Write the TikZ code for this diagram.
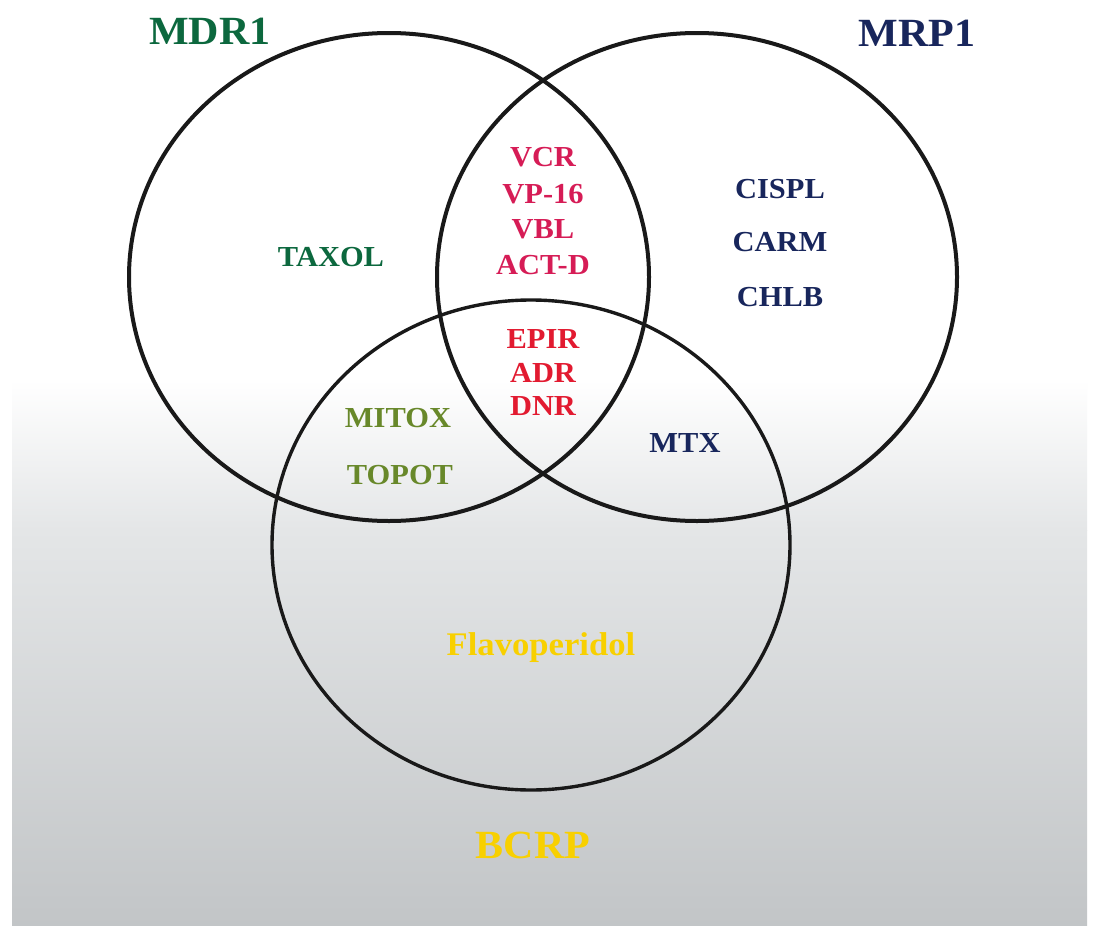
\documentclass[tikz,border=0pt]{standalone}
\usepackage{fontspec}
\setmainfont{Liberation Serif}[FakeStretch=1.05]
\definecolor{mdrgreen}{RGB}{12,104,62}
\definecolor{mrpblue}{RGB}{24,38,92}
\definecolor{vcrpink}{RGB}{214,28,86}
\definecolor{epirred}{RGB}{226,26,48}
\definecolor{mitoxgreen}{RGB}{104,136,42}
\definecolor{bcrpgold}{RGB}{248,208,0}
\definecolor{bgmid}{RGB}{228,230,231}
\definecolor{bgbot}{RGB}{194,197,199}
\begin{document}
\begin{tikzpicture}[x=1pt,y=-1pt,
  lbl/.style={font=\bfseries\fontsize{29}{32}\selectfont, inner sep=0pt},
  title/.style={font=\bfseries\fontsize{40}{44}\selectfont, inner sep=0pt},
  ring/.style={draw=black!90, line width=4pt},
  ringb/.style={draw=black!90, line width=3.4pt}]
\useasboundingbox (0,0) rectangle (1098,926);
\fill[white] (0,0) rectangle (1098,926);
\shade[top color=white, bottom color=bgmid] (12,380) rectangle (1087,530);
\shade[top color=bgmid, bottom color=bgbot] (12,530) rectangle (1087,926);
% circles
\draw[ring] (389,277) ellipse [x radius=260pt, y radius=244pt];
\draw[ring] (697,277) ellipse [x radius=260pt, y radius=244pt];
\draw[ringb] (531,545) ellipse [x radius=259pt, y radius=245pt];
% titles
\node[title, text=mdrgreen] (lmdr) at (210,31) {MDR1};
\node[title, text=mrpblue] (lmrp) at (917,33) {MRP1};
\node[title, text=bcrpgold] (lbcrp) at (533,845) {BCRP};
% MDR1 only
\node[lbl, text=mdrgreen] (taxol) at (331,257) {TAXOL};
% MDR1 & MRP1
\node[lbl, text=vcrpink] (vcr) at (543,157) {VCR};
\node[lbl, text=vcrpink] (vp16) at (543,194) {VP-16};
\node[lbl, text=vcrpink] (vbl) at (543,229) {VBL};
\node[lbl, text=vcrpink] (actd) at (543,265) {ACT-D};
% MRP1 only
\node[lbl, text=mrpblue] (cispl) at (780,189) {CISPL};
\node[lbl, text=mrpblue] (carm) at (780,242) {CARM};
\node[lbl, text=mrpblue] (chlb) at (780,297) {CHLB};
% all three
\node[lbl, text=epirred] (epir) at (543,339) {EPIR};
\node[lbl, text=epirred] (adr) at (543,373) {ADR};
\node[lbl, text=epirred] (dnr) at (543,406) {DNR};
% MDR1 & BCRP
\node[lbl, text=mitoxgreen] (mitox) at (398,418) {MITOX};
\node[lbl, text=mitoxgreen] (topot) at (400,475) {TOPOT};
% MRP1 & BCRP
\node[lbl, text=mrpblue] (mtx) at (685,443) {MTX};
% BCRP only
\node[lbl, text=bcrpgold, font=\bfseries\fontsize{33}{36}\selectfont, anchor=base] (flavo) at (541,655) {Flavoperidol};
\end{tikzpicture}
\end{document}
